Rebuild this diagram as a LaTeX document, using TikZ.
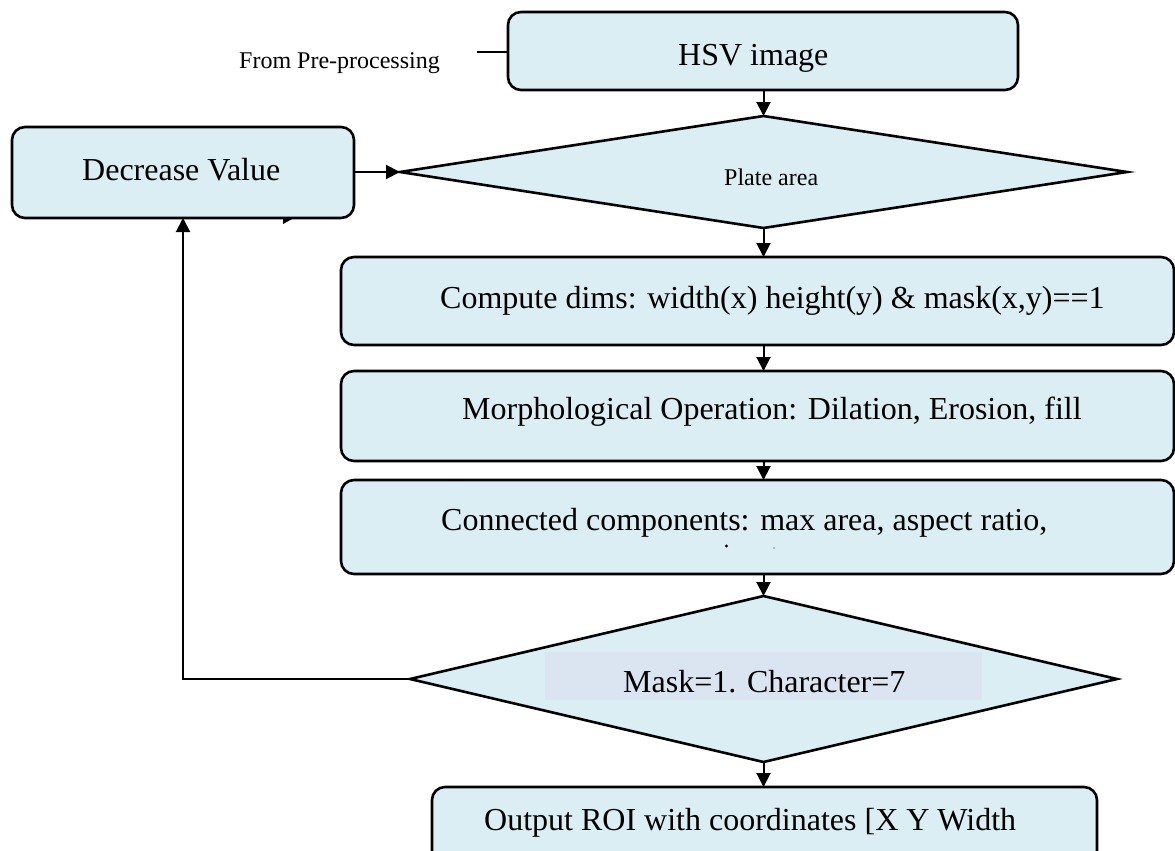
\documentclass[tikz,border=0pt]{standalone}
\usepackage{fontspec}
\setmainfont{Liberation Serif}
\usetikzlibrary{shapes.geometric,arrows.meta}
\definecolor{boxfill}{HTML}{DAEEF3}
\definecolor{lav}{HTML}{DBE5F1}
\begin{document}
\begin{tikzpicture}[x=1pt,y=-1pt,
  box/.style={draw=black, line width=2.6pt, fill=boxfill, rounded corners=13pt, inner sep=0pt, outer sep=0pt, anchor=north west},
  dia/.style={diamond, draw=black, line width=2.6pt, fill=boxfill, inner sep=0pt, outer sep=0pt},
  arr/.style={line width=2pt, -{Triangle[length=14pt,width=14pt]}},
  big/.style={font=\fontsize{32}{38}\selectfont, anchor=base west, inner sep=0pt},
  small/.style={font=\fontsize{24}{29}\selectfont, anchor=base west, inner sep=0pt}]
\useasboundingbox (0,0) rectangle (1175,851);
\fill[white] (0,0) rectangle (1175,851);

% boxes
\node[box, minimum width=510pt, minimum height=78pt] (hsv) at (508,12) {};
\node[box, minimum width=342pt, minimum height=91pt] (dec) at (12,127) {};
\node[box, minimum width=833pt, minimum height=88pt] (cmp) at (341,257) {};
\node[box, minimum width=833pt, minimum height=90pt] (mor) at (341,371) {};
\node[box, minimum width=833pt, minimum height=94pt] (con) at (341,480) {};
\node[box, minimum width=665pt, minimum height=80pt] (out) at (432,787) {};

% decisions
\node[dia, aspect=6.49, minimum width=727pt, minimum height=112pt] (plate) at (763.5,172) {};
\node[dia, aspect=4.26, minimum width=707pt, minimum height=166pt] (mask) at (763.5,679) {};
\node[fill=lav, inner sep=0pt, outer sep=0pt, minimum width=437pt, minimum height=48pt, anchor=north west] (maskbg) at (545,652) {};

% texts
\node[small] (fromt) at (239,68) {From Pre-processing};
\node[big] (hsvt) at (678,66) {HSV image};
\node[big] (dect) at (82,180) {Decrease Value};
\node[small] (platet) at (724,185) {Plate area};
\node[big] (cmpt) at (440,308) {Compute dims: width(x) height(y) \& mask(x,y)==1};
\node[big] (mort) at (462,419) {Morphological Operation: Dilation, Erosion, fill};
\node[big] (cont) at (441,530) {Connected components: max area, aspect ratio,};
\node[big] (maskt) at (623,692) {Mask=1. Character=7};
\node[big] (outt) at (484,830) {Output ROI with coordinates [X Y Width};

% stray marks
\fill (726.5,546) circle (1.6pt);
\fill[gray] (774,548) circle (0.8pt);
\fill (283,218) -- (294,218) -- (283,224) -- cycle;

% connectors
\coordinate (fromend) at (477,52);
\draw[line width=2pt] (fromend) -- (hsv.west |- fromend);
\draw[arr] (hsv.south -| plate.north) -- (plate.north);
\draw[arr] (dec.east |- plate.west) -- (plate.west);
\draw[arr] (plate.south) -- (plate.south |- cmp.north);
\draw[arr] (cmp.south -| plate.south) -- (plate.south |- mor.north);
\draw[arr] (mor.south -| plate.south) -- (plate.south |- con.north);
\draw[arr] (con.south -| mask.north) -- (mask.north);
\draw[arr] (mask.south) -- (mask.south |- out.north);
\draw[arr] (mask.west) -- (dec.south |- mask.west) -- (dec.south);
\end{tikzpicture}
\end{document}
